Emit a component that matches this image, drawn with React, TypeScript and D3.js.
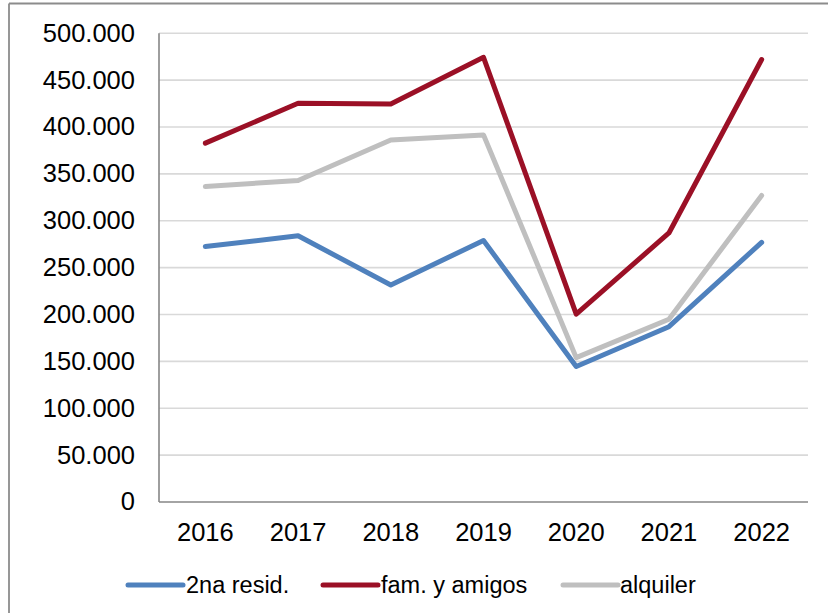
import React from "react";
import * as d3 from "d3";

const years = ["2016", "2017", "2018", "2019", "2020", "2021", "2022"];
const segundaResid = [272500, 284000, 231500, 279000, 144500, 187000, 277000];
const famAmigos = [382800, 425400, 424600, 474400, 200500, 287000, 472000];
const alquiler = [336500, 343000, 386200, 391600, 154000, 195000, 327000];
const yTicks = [0, 50000, 100000, 150000, 200000, 250000, 300000, 350000, 400000, 450000, 500000];

const seriesNames = ["2na resid.", "fam. y amigos", "alquiler"];
const seriesColors = ["#4F81BD", "#9B1026", "#BFBFBF"];

const W = 828;
const H = 613;
const left = 159;
const right = 808;
const top = 33.3;
const bottom = 502;
const font = "'Liberation Sans', Arial, sans-serif";

export default function App() {
  const x = d3.scaleBand<string>().domain(years).range([left, right]);
  const y = d3.scaleLinear().domain([0, 500000]).range([bottom, top]);
  const line = d3
    .line<number>()
    .x((_, i) => (x(years[i]) as number) + x.bandwidth() / 2)
    .y((d) => y(d));
  const data = [segundaResid, famAmigos, alquiler];
  const fmt = (v: number) => (v === 0 ? "0" : d3.format(",")(v).replace(/,/g, "."));
  const legendItems = [
    { lx: 128, tx: 186 },
    { lx: 323, tx: 381 },
    { lx: 563, tx: 620 },
  ];

  return (
    <svg
      width={W}
      height={H}
      style={{ position: "fixed", left: 0, top: 0, background: "#fff" }}
      fontFamily={font}
    >
      <rect x={0} y={0} width={W} height={H} fill="#fff" />
      <line x1={9} x2={W} y1={3.5} y2={3.5} stroke="#8C8C8C" strokeWidth={1.8} />
      <line x1={9} x2={9} y1={3.5} y2={H} stroke="#8C8C8C" strokeWidth={1.8} />
      {yTicks.slice(1).map((t) => (
        <line key={t} x1={left} x2={right} y1={y(t)} y2={y(t)} stroke="#D9D9D9" strokeWidth={1.6} />
      ))}
      <line x1={left} x2={left} y1={top} y2={bottom} stroke="#868686" strokeWidth={1.6} />
      <line x1={left} x2={right} y1={bottom} y2={bottom} stroke="#868686" strokeWidth={1.6} />
      {yTicks.map((t) => (
        <text key={t} x={135} y={y(t) + 8.4} textAnchor="end" fontSize={25.5} fill="#000">
          {fmt(t)}
        </text>
      ))}
      {years.map((yr) => (
        <text
          key={yr}
          x={(x(yr) as number) + x.bandwidth() / 2}
          y={541}
          textAnchor="middle"
          fontSize={25.5}
          fill="#000"
        >
          {yr}
        </text>
      ))}
      {data.map((d, i) => (
        <path
          key={i}
          d={line(d) || ""}
          fill="none"
          stroke={seriesColors[i]}
          strokeWidth={5}
          strokeLinejoin="round"
          strokeLinecap="round"
        />
      ))}
      {seriesNames.map((n, i) => (
        <g key={n}>
          <line
            x1={legendItems[i].lx}
            x2={legendItems[i].lx + 55}
            y1={585}
            y2={585}
            stroke={seriesColors[i]}
            strokeWidth={5}
            strokeLinecap="round"
          />
          <text x={legendItems[i].tx} y={593.3} fontSize={23.5} fill="#000">
            {n}
          </text>
        </g>
      ))}
    </svg>
  );
}
